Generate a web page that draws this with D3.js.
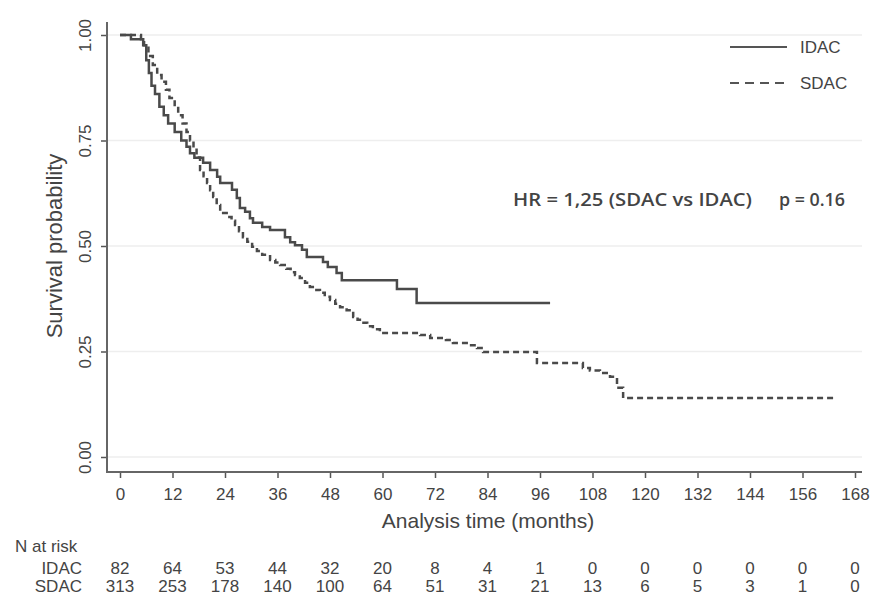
<!DOCTYPE html>
<html>
<head>
<meta charset="utf-8">
<script src="https://cdn.jsdelivr.net/npm/d3@7"></script>
<style>
  body { margin: 0; background: #fff; }
  text { font-family: "Liberation Sans", Arial, sans-serif; fill: #444; }
</style>
</head>
<body>
<div id="chart"></div>
<script>
// Kaplan-Meier steps: [time in months, survival after that time]
const idacSteps = [[0,1],[2.5,0.99],[5.3,0.976],[6,0.94],[6.6,0.91],[7.2,0.88],[8,0.86],[9,0.83],[10,0.81],[11,0.79],[12.5,0.77],[14,0.75],[15.2,0.735],[16,0.72],[17,0.709],[19,0.697],[20.6,0.68],[22.2,0.664],[22.9,0.649],[25.6,0.633],[26.7,0.614],[27.4,0.59],[28.6,0.581],[29.7,0.566],[30.4,0.555],[32.5,0.545],[34.3,0.538],[37.7,0.521],[38.9,0.509],[40,0.502],[41.6,0.491],[42.7,0.474],[46.4,0.462],[47.5,0.45],[49.5,0.436],[50.7,0.419],[63.3,0.398],[67.8,0.365]];
const idacEnd = 98.3;
const sdacSteps = [[0,1],[4.8,0.99],[5.5,0.976],[6.5,0.95],[7.5,0.929],[8.5,0.905],[9.5,0.889],[10.5,0.87],[11.3,0.851],[12.5,0.83],[13.3,0.81],[14.3,0.79],[15.2,0.77],[16,0.75],[16.8,0.732],[17.5,0.71],[18.3,0.68],[19.1,0.665],[19.9,0.649],[20.6,0.632],[21.3,0.616],[22.1,0.597],[22.9,0.578],[24.7,0.569],[25.5,0.56],[26.3,0.55],[27.2,0.535],[28.1,0.521],[29.1,0.51],[30.2,0.498],[31.3,0.488],[32.5,0.479],[34.3,0.467],[35.5,0.461],[36.6,0.455],[38,0.446],[39,0.438],[40,0.431],[41.1,0.424],[42.3,0.413],[43.4,0.403],[44.5,0.396],[45.7,0.389],[46.8,0.38],[48,0.372],[49.2,0.363],[50.3,0.355],[51.8,0.348],[53.3,0.332],[54.3,0.325],[55.3,0.318],[56.5,0.31],[57.8,0.303],[59.4,0.294],[68.6,0.289],[70.9,0.282],[74.5,0.277],[76.1,0.27],[79.6,0.265],[81.6,0.258],[83,0.249],[95.3,0.223],[105.8,0.211],[107.4,0.205],[109.7,0.199],[112,0.19],[113.6,0.164],[115,0.14]];
const sdacEnd = 163;

const xTicks = [0,12,24,36,48,60,72,84,96,108,120,132,144,156,168];
const yTicks = [0,0.25,0.5,0.75,1];
const riskIdac = [82,64,53,44,32,20,8,4,1,0,0,0,0,0,0];
const riskSdac = [313,253,178,140,100,64,51,31,21,13,6,5,3,1,0];

const W = 873, H = 599;
const svg = d3.select("#chart").append("svg")
    .attr("width", W)
    .attr("height", H);

let x = d3.scaleLinear().domain([0, 168]).range([120, 855]);
let y = d3.scaleLinear().domain([0, 1]).range([457, 35]);

// grid
svg.append("g").selectAll("line")
    .data(yTicks)
    .enter().append("line")
    .attr("x1", 108).attr("x2", 862)
    .attr("y1", d => y(d)).attr("y2", d => y(d))
    .attr("stroke", "#eeeeee").attr("stroke-width", 1.5);

// x axis
let xAxis = svg.append("g")
    .attr("transform", "translate(0,472)")
    .call(d3.axisBottom(x).tickValues(xTicks).tickSize(6).tickSizeOuter(0).tickPadding(10));
xAxis.select(".domain").remove();
xAxis.selectAll("line").attr("stroke", "#555").attr("stroke-width", 1.5);
xAxis.selectAll("text").style("font-size", "17px").style("font-family", "Liberation Sans, Arial").attr("fill", "#444");
svg.append("line")
    .attr("x1", 107).attr("x2", 862).attr("y1", 472).attr("y2", 472)
    .attr("stroke", "#666").attr("stroke-width", 2);

// y axis
let yAxis = svg.append("g")
    .attr("transform", "translate(107,0)")
    .call(d3.axisLeft(y).tickValues(yTicks).tickFormat(d3.format(".2f")).tickSize(6).tickSizeOuter(0));
yAxis.select(".domain").remove();
yAxis.selectAll("line").attr("stroke", "#555").attr("stroke-width", 1.5);
yAxis.selectAll("text").remove();
yAxis.selectAll(".tick").append("text")
    .attr("transform", "translate(-16,0)rotate(-90)")
    .attr("text-anchor", "middle")
    .style("font-size", "17px")
    .text(d => d3.format(".2f")(d));
svg.append("line")
    .attr("x1", 107).attr("x2", 107).attr("y1", 22).attr("y2", 473)
    .attr("stroke", "#666").attr("stroke-width", 2);

svg.append("text")
    .attr("transform", "translate(62,246)rotate(-90)")
    .attr("text-anchor", "middle")
    .style("font-size", "22px")
    .text("Survival probability");
svg.append("text")
    .attr("x", 488).attr("y", 528)
    .attr("text-anchor", "middle")
    .style("font-size", "21px")
    .text("Analysis time (months)");

// curves
let line = d3.line()
    .x(d => x(d[0]))
    .y(d => y(d[1]))
    .curve(d3.curveStepAfter);
const idacPts = idacSteps.concat([[idacEnd, idacSteps[idacSteps.length - 1][1]]]);
const sdacPts = sdacSteps.concat([[sdacEnd, sdacSteps[sdacSteps.length - 1][1]]]);
svg.append("path")
    .attr("d", line(sdacPts))
    .attr("fill", "none")
    .attr("stroke", "#4a4a4a")
    .attr("stroke-width", 2.5)
    .attr("stroke-dasharray", "6,4");
svg.append("path")
    .attr("d", line(idacPts))
    .attr("fill", "none")
    .attr("stroke", "#4a4a4a")
    .attr("stroke-width", 2.5);

// legend
svg.append("line").attr("x1", 730).attr("x2", 787).attr("y1", 47).attr("y2", 47)
    .attr("stroke", "#555").attr("stroke-width", 2.2);
svg.append("line").attr("x1", 730).attr("x2", 787).attr("y1", 83).attr("y2", 83)
    .attr("stroke", "#555").attr("stroke-width", 2.2).attr("stroke-dasharray", "9,6");
svg.append("text").attr("x", 800).attr("y", 53).style("font-size", "17px").text("IDAC");
svg.append("text").attr("x", 800).attr("y", 89).style("font-size", "17px").text("SDAC");

// HR annotation
svg.append("text").attr("x", 513).attr("y", 206)
    .style("font-family", "Open Sans, sans-serif").style("font-size", "18px").style("font-weight", 600)
    .attr("fill", "#444")
    .attr("textLength", 239).attr("lengthAdjust", "spacingAndGlyphs")
    .text("HR = 1,25 (SDAC vs IDAC)");
svg.append("text").attr("x", 779).attr("y", 206)
    .style("font-family", "Open Sans, sans-serif").style("font-size", "18px").style("font-weight", 600)
    .attr("fill", "#444")
    .attr("textLength", 66).attr("lengthAdjust", "spacingAndGlyphs")
    .text("p = 0.16");

// number at risk
svg.append("text").attr("x", 15).attr("y", 552).style("font-size", "17px").text("N at risk");
svg.append("text").attr("x", 82).attr("y", 574).attr("text-anchor", "end").style("font-size", "17px").text("IDAC");
svg.append("text").attr("x", 82).attr("y", 592).attr("text-anchor", "end").style("font-size", "17px").text("SDAC");
svg.append("g").selectAll("text")
    .data(riskIdac)
    .enter().append("text")
    .attr("x", (d, i) => x(xTicks[i]))
    .attr("y", 574)
    .attr("text-anchor", "middle")
    .style("font-size", "17px")
    .text(d => d);
svg.append("g").selectAll("text")
    .data(riskSdac)
    .enter().append("text")
    .attr("x", (d, i) => x(xTicks[i]))
    .attr("y", 592)
    .attr("text-anchor", "middle")
    .style("font-size", "17px")
    .text(d => d);
</script>
</body>
</html>
